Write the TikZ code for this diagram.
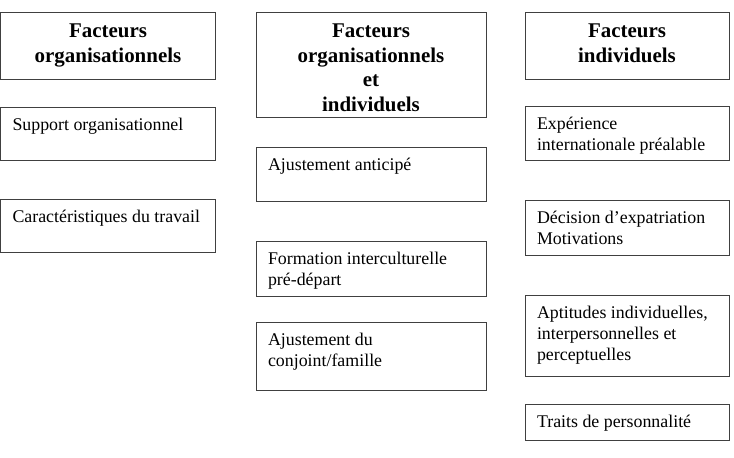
\documentclass[tikz,border=0pt]{standalone}
\usepackage{fontspec}
\setmainfont{Liberation Serif}
\usetikzlibrary{positioning}

\newcommand{\bodyfont}{\fontsize{13.4}{15.75}\selectfont}
\newcommand{\hdrfont}{\fontsize{15.7}{18.4}\selectfont\bfseries}

\begin{document}
\begin{tikzpicture}[
        x=0.75pt, y=-0.75pt,
        factor/.style 2 args={
            rectangle, draw=black!75, line width=0.7pt,
            inner sep=0pt, outer sep=0pt, anchor=north west,
            execute at begin node={\begin{minipage}[t][#2][t]{#1}\centering\hdrfont\rule{0pt}{19.1pt}},
            execute at end node={\end{minipage}}
        },
        item/.style 2 args={
            rectangle, draw=black!75, line width=0.7pt,
            inner sep=0pt, outer sep=0pt,
            execute at begin node={\begin{minipage}[t][#2][t]{#1}\raggedright\leftskip=9pt\bodyfont\rule{0pt}{17.25pt}},
            execute at end node={\end{minipage}}
        }
    ]
    \useasboundingbox (0,0) rectangle (734,457);
    % colonne 1
    \node[factor={161.25pt}{50.25pt}] (hdrorg) at (0.5,12) {Facteurs\\organisationnels};
    \node[item={161.25pt}{39.75pt}, below=21pt of hdrorg] (support) {Support organisationnel};
    \node[item={161.25pt}{39.75pt}, below=29.25pt of support] (travail) {Caractéristiques du travail};
    % colonne 2
    \node[factor={172.5pt}{78.75pt}] (hdrmix) at (256,12) {Facteurs\\organisationnels\\et\\individuels};
    \node[item={172.5pt}{40.5pt}, below=22.5pt of hdrmix] (anticipe) {Ajustement anticipé};
    \node[item={172.5pt}{41.25pt}, below=30pt of anticipe] (formation) {Formation interculturelle\\pré-départ};
    \node[item={172.5pt}{51pt}, below=19.5pt of formation] (conjoint) {Ajustement du\\conjoint/famille};
    % colonne 3
    \node[factor={153pt}{50.25pt}] (hdrind) at (525,12) {Facteurs\\individuels};
    \node[item={153pt}{40.5pt}, below=20.25pt of hdrind] (experience) {Expérience\\internationale préalable};
    \node[item={153pt}{41.25pt}, below=30pt of experience] (decision) {Décision d’expatriation\\Motivations};
    \node[item={153pt}{60.75pt}, below=30pt of decision] (aptitudes) {Aptitudes individuelles,\\interpersonnelles et\\perceptuelles};
    \node[item={153pt}{27pt}, below=21pt of aptitudes] (traits) {Traits de personnalité};
\end{tikzpicture}
\end{document}
